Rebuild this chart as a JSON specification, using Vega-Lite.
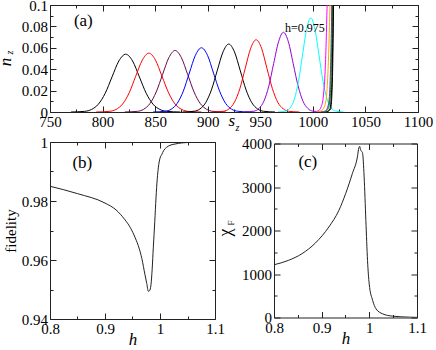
{
  "$schema": "https://vega.github.io/schema/vega-lite/v6.json",
  "padding": {"left": -5, "top": -3, "right": 0, "bottom": 0},
  "background": "white",
  "bounds": "flush",
  "spacing": 30,
  "config": {
    "font": "Liberation Serif",
    "view": {"stroke": "#222", "strokeWidth": 1},
    "style": {"guide-label": {"font": "Liberation Serif", "fontSize": 15}, "guide-title": {"font": "Liberation Serif", "fontWeight": "normal"}},
    "axis": {"domain": false, "grid": false, "labelFont": {"condition": {"test": "isValid(datum.value)", "value": "Liberation Serif"}, "value": "Liberation Serif"}, "labelFontSize": 15, "labelColor": "#000", "tickColor": "#222", "tickWidth": 1, "titleFont": "Liberation Serif", "titleColor": "#000", "titleFontWeight": "normal", "labelPadding": 8.5, "labelFlush": false, "labelOverlap": false, "labelBound": false},
    "text": {"font": "Liberation Serif", "color": "#000"}
  },
  "datasets": {
    "nz": [
      {"curve":"c01","s":770,"n":0},{"curve":"c01","s":783,"n":0.0006},{"curve":"c01","s":789.5,"n":0.0024},{"curve":"c01","s":796,"n":0.0073},{"curve":"c01","s":802.5,"n":0.0175},{"curve":"c01","s":809,"n":0.0328},{"curve":"c01","s":815.5,"n":0.0477},{"curve":"c01","s":822,"n":0.054},{"curve":"c01","s":828.5,"n":0.0477},{"curve":"c01","s":835,"n":0.0328},{"curve":"c01","s":841.5,"n":0.0175},{"curve":"c01","s":848,"n":0.0073},{"curve":"c01","s":854.5,"n":0.0024},{"curve":"c01","s":861,"n":0.0006},{"curve":"c01","s":874,"n":0},
      {"curve":"c02","s":794,"n":0},{"curve":"c02","s":806.5,"n":0.0006},{"curve":"c02","s":812.8,"n":0.0024},{"curve":"c02","s":819,"n":0.0074},{"curve":"c02","s":825.3,"n":0.0179},{"curve":"c02","s":831.5,"n":0.0334},{"curve":"c02","s":837.8,"n":0.0485},{"curve":"c02","s":844,"n":0.055},{"curve":"c02","s":850.3,"n":0.0485},{"curve":"c02","s":856.5,"n":0.0334},{"curve":"c02","s":862.8,"n":0.0179},{"curve":"c02","s":869,"n":0.0074},{"curve":"c02","s":875.3,"n":0.0024},{"curve":"c02","s":881.5,"n":0.0006},{"curve":"c02","s":894,"n":0},
      {"curve":"c03","s":821,"n":0},{"curve":"c03","s":833,"n":0.0006},{"curve":"c03","s":839,"n":0.0025},{"curve":"c03","s":845,"n":0.0078},{"curve":"c03","s":851,"n":0.0187},{"curve":"c03","s":857,"n":0.0349},{"curve":"c03","s":863,"n":0.0507},{"curve":"c03","s":869,"n":0.0575},{"curve":"c03","s":875,"n":0.0507},{"curve":"c03","s":881,"n":0.0349},{"curve":"c03","s":887,"n":0.0187},{"curve":"c03","s":893,"n":0.0078},{"curve":"c03","s":899,"n":0.0025},{"curve":"c03","s":905,"n":0.0006},{"curve":"c03","s":917,"n":0},
      {"curve":"c04","s":848,"n":0},{"curve":"c04","s":859.5,"n":0.0007},{"curve":"c04","s":865.3,"n":0.0026},{"curve":"c04","s":871,"n":0.0081},{"curve":"c04","s":876.8,"n":0.0195},{"curve":"c04","s":882.5,"n":0.0364},{"curve":"c04","s":888.3,"n":0.053},{"curve":"c04","s":894,"n":0.06},{"curve":"c04","s":899.8,"n":0.053},{"curve":"c04","s":905.5,"n":0.0364},{"curve":"c04","s":911.3,"n":0.0195},{"curve":"c04","s":917,"n":0.0081},{"curve":"c04","s":922.8,"n":0.0026},{"curve":"c04","s":928.5,"n":0.0007},{"curve":"c04","s":940,"n":0},
      {"curve":"c05","s":876,"n":0},{"curve":"c05","s":887,"n":0.0007},{"curve":"c05","s":892.5,"n":0.0028},{"curve":"c05","s":898,"n":0.0086},{"curve":"c05","s":903.5,"n":0.0206},{"curve":"c05","s":909,"n":0.0385},{"curve":"c05","s":914.5,"n":0.056},{"curve":"c05","s":920,"n":0.0635},{"curve":"c05","s":925.5,"n":0.056},{"curve":"c05","s":931,"n":0.0385},{"curve":"c05","s":936.5,"n":0.0206},{"curve":"c05","s":942,"n":0.0086},{"curve":"c05","s":947.5,"n":0.0028},{"curve":"c05","s":953,"n":0.0007},{"curve":"c05","s":964,"n":0},
      {"curve":"c06","s":904.8,"n":0},{"curve":"c06","s":915.1,"n":0.0007},{"curve":"c06","s":920.3,"n":0.003},{"curve":"c06","s":925.4,"n":0.0091},{"curve":"c06","s":930.6,"n":0.0219},{"curve":"c06","s":935.7,"n":0.0409},{"curve":"c06","s":940.9,"n":0.0596},{"curve":"c06","s":946,"n":0.0675},{"curve":"c06","s":951.2,"n":0.0596},{"curve":"c06","s":956.3,"n":0.0409},{"curve":"c06","s":961.5,"n":0.0219},{"curve":"c06","s":966.6,"n":0.0091},{"curve":"c06","s":971.8,"n":0.003},{"curve":"c06","s":976.9,"n":0.0007},{"curve":"c06","s":987.2,"n":0},
      {"curve":"c07","s":934.8,"n":0},{"curve":"c07","s":944.1,"n":0.0008},{"curve":"c07","s":948.8,"n":0.0033},{"curve":"c07","s":953.4,"n":0.0101},{"curve":"c07","s":958.1,"n":0.0242},{"curve":"c07","s":962.7,"n":0.0452},{"curve":"c07","s":967.4,"n":0.0657},{"curve":"c07","s":972,"n":0.0745},{"curve":"c07","s":976.7,"n":0.0657},{"curve":"c07","s":981.3,"n":0.0452},{"curve":"c07","s":986,"n":0.0242},{"curve":"c07","s":990.6,"n":0.0101},{"curve":"c07","s":995.3,"n":0.0033},{"curve":"c07","s":999.9,"n":0.0008},{"curve":"c07","s":1009.2,"n":0},
      {"curve":"c08","s":966.8,"n":0},{"curve":"c08","s":974.6,"n":0.001},{"curve":"c08","s":978.5,"n":0.0039},{"curve":"c08","s":982.4,"n":0.0119},{"curve":"c08","s":986.3,"n":0.0286},{"curve":"c08","s":990.2,"n":0.0534},{"curve":"c08","s":994.1,"n":0.0777},{"curve":"c08","s":998,"n":0.088},{"curve":"c08","s":1001.9,"n":0.0777},{"curve":"c08","s":1005.8,"n":0.0534},{"curve":"c08","s":1009.7,"n":0.0286},{"curve":"c08","s":1013.6,"n":0.0119},{"curve":"c08","s":1017.5,"n":0.0039},{"curve":"c08","s":1021.4,"n":0.001},{"curve":"c08","s":1029.2,"n":0},
      {"curve":"c09","s":1000,"n":0},{"curve":"c09","s":1005,"n":0.001},{"curve":"c09","s":1008,"n":0.005},{"curve":"c09","s":1010,"n":0.015},{"curve":"c09","s":1011.5,"n":0.035},{"curve":"c09","s":1012.5,"n":0.06},{"curve":"c09","s":1013.3,"n":0.09},{"curve":"c09","s":1014,"n":0.12},{"curve":"c09","s":1015,"n":0.2},
      {"curve":"c10","s":1003,"n":0},{"curve":"c10","s":1008,"n":0.001},{"curve":"c10","s":1011,"n":0.005},{"curve":"c10","s":1013,"n":0.015},{"curve":"c10","s":1014.5,"n":0.04},{"curve":"c10","s":1015.5,"n":0.07},{"curve":"c10","s":1016.3,"n":0.1},{"curve":"c10","s":1017,"n":0.14},{"curve":"c10","s":1018,"n":0.2},
      {"curve":"c11","s":1008,"n":0},{"curve":"c11","s":1012,"n":0.001},{"curve":"c11","s":1015,"n":0.008},{"curve":"c11","s":1016.5,"n":0.03},{"curve":"c11","s":1017.3,"n":0.06},{"curve":"c11","s":1018,"n":0.1},{"curve":"c11","s":1018.7,"n":0.15},
      {"curve":"c12","s":1010,"n":0},{"curve":"c12","s":1014,"n":0.002},{"curve":"c12","s":1016.5,"n":0.015},{"curve":"c12","s":1017.7,"n":0.05},{"curve":"c12","s":1018.4,"n":0.09},{"curve":"c12","s":1019,"n":0.13},
      {"curve":"c13","s":1012,"n":0},{"curve":"c13","s":1016,"n":0.002},{"curve":"c13","s":1017.8,"n":0.02},{"curve":"c13","s":1018.8,"n":0.06},{"curve":"c13","s":1019.3,"n":0.1},{"curve":"c13","s":1019.7,"n":0.14},
      {"curve":"c14","s":1013,"n":0},{"curve":"c14","s":1017,"n":0.003},{"curve":"c14","s":1018.6,"n":0.03},{"curve":"c14","s":1019.3,"n":0.07},{"curve":"c14","s":1019.8,"n":0.11},{"curve":"c14","s":1020.2,"n":0.15}
    ],
    "nzlabels": [
      {"s": 781.7, "n": 0.0849, "label": "(a)", "size": "big"},
      {"s": 992.4, "n": 0.0787, "label": "h=0.975", "size": "small"}
    ],
    "fid": [
      {"h":0.8,"f":0.985},{"h":0.85,"f":0.9825},{"h":0.9,"f":0.9793},{"h":0.92,"f":0.977},{"h":0.936,"f":0.9737},{"h":0.946,"f":0.971},{"h":0.955,"f":0.9675},{"h":0.962,"f":0.964},{"h":0.967,"f":0.9605},{"h":0.9727,"f":0.955},{"h":0.976,"f":0.952},{"h":0.9787,"f":0.9494},{"h":0.981,"f":0.9496},{"h":0.9836,"f":0.9516},{"h":0.9858,"f":0.957},{"h":0.9878,"f":0.9641},{"h":0.9905,"f":0.973},{"h":0.9927,"f":0.981},{"h":0.995,"f":0.9875},{"h":0.9969,"f":0.9912},{"h":1.0,"f":0.9945},{"h":1.003,"f":0.9957},{"h":1.007,"f":0.9972},{"h":1.012,"f":0.9982},{"h":1.02,"f":0.999},{"h":1.027,"f":0.9993},{"h":1.04,"f":0.9997},{"h":1.06,"f":0.9999},{"h":1.1,"f":1.0}
    ],
    "fidlabels": [{"h": 0.8587, "f": 0.9929, "label": "(b)"}],
    "chi": [
      {"h":0.8,"c":1212},{"h":0.83,"c":1312},{"h":0.8586,"c":1466},{"h":0.8868,"c":1712},{"h":0.915,"c":2080},{"h":0.9362,"c":2464},{"h":0.9503,"c":2848},{"h":0.9644,"c":3309},{"h":0.975,"c":3693},{"h":0.978,"c":3900},{"h":0.9798,"c":3935},{"h":0.9815,"c":3860},{"h":0.9836,"c":3820},{"h":0.9856,"c":3790},{"h":0.9891,"c":3232},{"h":0.9927,"c":2233},{"h":0.9962,"c":1312},{"h":0.9997,"c":774},{"h":1.007,"c":392},{"h":1.014,"c":200},{"h":1.028,"c":84},{"h":1.049,"c":31},{"h":1.084,"c":8},{"h":1.1,"c":3}
    ],
    "chilabels": [{"h": 0.871, "c": 3575, "label": "(c)"}]
  },
  "vconcat": [
    {
      "width": 368,
      "height": 107,
      "layer": [
        {
          "data": {"name": "nz"},
          "mark": {"type": "line", "interpolate": "monotone", "clip": true, "strokeWidth": 1},
          "encoding": {
            "x": {"field": "s", "type": "quantitative", "scale": {"domain": [750, 1100], "nice": false, "zero": false},
              "axis": {"orient": "bottom", "values": [750,775,800,825,850,875,900,925,950,975,1000,1025,1050,1075,1100], "format": "d",
                "labelFont": {"condition": {"test": "isValid(datum.value)", "value": "Liberation Serif"}, "value": "Liberation Serif"}, "labelFontSize": 15, "titleFont": "Liberation Serif",
                "labelExpr": "datum.value % 50 === 0 ? datum.label : ''",
                "tickSize": {"condition": {"test": "datum.value % 50 === 0", "value": -6}, "value": -3},
                "title": "s", "titleFontStyle": "italic", "titleFontSize": 17, "titleX": 181.4, "titleY": 8.7, "titleBaseline": "middle", "titleAlign": "center", "titleAngle": 0}},
            "y": {"field": "n", "type": "quantitative", "scale": {"domain": [0, 0.1], "nice": false, "zero": false},
              "axis": {"orient": "left", "values": [0,0.01,0.02,0.03,0.04,0.05,0.06,0.07,0.08,0.09,0.1], "format": ".2~f",
                "labelFont": {"condition": {"test": "isValid(datum.value)", "value": "Liberation Serif"}, "value": "Liberation Serif"}, "labelFontSize": 15, "titleFont": "Liberation Serif",
                "labelExpr": "round(datum.value*100) % 2 === 0 ? datum.label : ''",
                "tickSize": {"condition": {"test": "round(datum.value*100) % 2 === 0", "value": -6}, "value": -3},
                "title": "n", "titleFontStyle": "italic", "titleFontSize": 17, "titleX": -45, "titleY": 56.5, "titleAngle": 270, "titleBaseline": "middle", "titleAlign": "center"}},
            "color": {"field": "curve", "type": "nominal", "legend": null,
              "scale": {"domain": ["c01","c02","c03","c04","c05","c06","c07","c08","c09","c10","c11","c12","c13","c14"],
                "range": ["#000000","#ff0000","#670748","#0000ff","#000000","#ff0000","#9400d3","#00ffff","#ff00ff","#ffa500","#7221bc","#008b00","#000000","#000000"]}}
          }
        },
        {
          "data": {"name": "nzlabels"},
          "mark": {"type": "point", "opacity": 0, "clip": true},
          "encoding": {
            "x": {"field": "s", "type": "quantitative", "scale": {"domain": [750, 1100], "nice": false, "zero": false},
              "axis": {"orient": "top", "values": [750,775,800,825,850,875,900,925,950,975,1000,1025,1050,1075,1100], "labels": false, "title": null,
                "tickSize": {"condition": {"test": "datum.value % 50 === 0", "value": -6}, "value": -3}}},
            "y": {"field": "n", "type": "quantitative", "scale": {"domain": [0, 0.1], "nice": false, "zero": false},
              "axis": {"orient": "right", "values": [0,0.01,0.02,0.03,0.04,0.05,0.06,0.07,0.08,0.09,0.1], "labels": false, "title": null,
                "tickSize": {"condition": {"test": "round(datum.value*100) % 2 === 0", "value": -6}, "value": -3}}}
          }
        },
        {
          "data": {"name": "nzlabels"},
          "mark": {"type": "point", "opacity": 0, "clip": true},
          "encoding": {
            "x": {"field": "s", "type": "quantitative", "scale": {"domain": [750, 1100], "nice": false, "zero": false},
              "axis": {"orient": "bottom", "ticks": false, "labels": false, "title": "z", "titleFont": "Liberation Serif", "titleFontStyle": "italic", "titleFontSize": 10, "titleX": 187, "titleY": 15.5, "titleBaseline": "middle", "titleAlign": "center", "titleAngle": 0}},
            "y": {"field": "n", "type": "quantitative", "scale": {"domain": [0, 0.1], "nice": false, "zero": false},
              "axis": {"orient": "left", "ticks": false, "labels": false, "title": "z", "titleFont": "Liberation Serif", "titleFontStyle": "italic", "titleFontSize": 10, "titleX": -40.5, "titleY": 47, "titleAngle": 270, "titleBaseline": "middle", "titleAlign": "center"}}
          }
        },
        {
          "data": {"name": "nzlabels"},
          "mark": {"type": "text"},
          "encoding": {
            "x": {"field": "s", "type": "quantitative", "axis": null, "scale": {"domain": [750, 1100], "nice": false, "zero": false}},
            "y": {"field": "n", "type": "quantitative", "axis": null, "scale": {"domain": [0, 0.1], "nice": false, "zero": false}},
            "size": {"field": "size", "type": "nominal", "legend": null, "scale": {"domain": ["big", "small"], "range": [17, 12]}},
            "text": {"field": "label"}
          }
        }
      ],
      "resolve": {"axis": {"x": "independent", "y": "independent"}}
    },
    {
      "bounds": "flush",
      "spacing": 59,
      "center": true,
      "hconcat": [
        {
          "width": 165,
          "height": 177,
          "layer": [
            {
              "data": {"name": "fid"},
              "mark": {"type": "line", "interpolate": "monotone", "clip": true, "strokeWidth": 1, "color": "#222"},
              "encoding": {
                "x": {"field": "h", "type": "quantitative", "scale": {"domain": [0.8, 1.1], "nice": false, "zero": false},
                  "axis": {"orient": "bottom", "values": [0.8,0.85,0.9,0.95,1,1.05,1.1], "format": ".1~f",
                    "labelFont": {"condition": {"test": "isValid(datum.value)", "value": "Liberation Serif"}, "value": "Liberation Serif"}, "labelFontSize": 15, "titleFont": "Liberation Serif",
                    "labelExpr": "round(datum.value*100) % 10 === 0 ? datum.label : ''",
                    "tickSize": {"condition": {"test": "round(datum.value*100) % 10 === 0", "value": -6}, "value": -3},
                    "title": "h", "titleFontStyle": "italic", "titleFontSize": 17, "titleY": 20.5, "titleBaseline": "middle", "titleAngle": 0}},
                "y": {"field": "f", "type": "quantitative", "scale": {"domain": [0.94, 1.0], "nice": false, "zero": false},
                  "axis": {"orient": "left", "values": [0.94,0.95,0.96,0.97,0.98,0.99,1.0], "format": ".2~f",
                    "labelFont": {"condition": {"test": "isValid(datum.value)", "value": "Liberation Serif"}, "value": "Liberation Serif"}, "labelFontSize": 15, "titleFont": "Liberation Serif",
                    "labelExpr": "round(datum.value*100) % 2 === 0 ? datum.label : ''",
                    "tickSize": {"condition": {"test": "round(datum.value*100) % 2 === 0", "value": -6}, "value": -3},
                    "title": "fidelity", "titleFontSize": 15, "titleX": -39.7, "titleAngle": 270, "titleBaseline": "middle", "titleAlign": "center"}}
              }
            },
            {
              "data": {"name": "fidlabels"},
              "mark": {"type": "point", "opacity": 0, "clip": true},
              "encoding": {
                "x": {"field": "h", "type": "quantitative", "scale": {"domain": [0.8, 1.1], "nice": false, "zero": false},
                  "axis": {"orient": "top", "values": [0.8,0.85,0.9,0.95,1,1.05,1.1], "labels": false, "title": null,
                    "tickSize": {"condition": {"test": "round(datum.value*100) % 10 === 0", "value": -6}, "value": -3}}},
                "y": {"field": "f", "type": "quantitative", "scale": {"domain": [0.94, 1.0], "nice": false, "zero": false},
                  "axis": {"orient": "right", "values": [0.94,0.95,0.96,0.97,0.98,0.99,1.0], "labels": false, "title": null,
                    "tickSize": {"condition": {"test": "round(datum.value*100) % 2 === 0", "value": -6}, "value": -3}}}
              }
            },
            {
              "data": {"name": "fidlabels"},
              "mark": {"type": "text", "fontSize": 17},
              "encoding": {
                "x": {"field": "h", "type": "quantitative", "axis": null, "scale": {"domain": [0.8, 1.1], "nice": false, "zero": false}},
                "y": {"field": "f", "type": "quantitative", "axis": null, "scale": {"domain": [0.94, 1.0], "nice": false, "zero": false}},
                "text": {"field": "label"}
              }
            }
          ],
          "resolve": {"axis": {"x": "independent", "y": "independent"}}
        },
        {
          "width": 143,
          "height": 174,
          "layer": [
            {
              "data": {"name": "chi"},
              "mark": {"type": "line", "interpolate": "monotone", "clip": true, "strokeWidth": 1, "color": "#222"},
              "encoding": {
                "x": {"field": "h", "type": "quantitative", "scale": {"domain": [0.8, 1.1], "nice": false, "zero": false},
                  "axis": {"orient": "bottom", "values": [0.8,0.85,0.9,0.95,1,1.05,1.1], "format": ".1~f",
                    "labelFont": {"condition": {"test": "isValid(datum.value)", "value": "Liberation Serif"}, "value": "Liberation Serif"}, "labelFontSize": 15, "titleFont": "Liberation Serif",
                    "labelExpr": "round(datum.value*100) % 10 === 0 ? datum.label : ''",
                    "tickSize": {"condition": {"test": "round(datum.value*100) % 10 === 0", "value": -6}, "value": -3},
                    "title": "h", "titleFontStyle": "italic", "titleFontSize": 17, "titleY": 20.5, "titleBaseline": "middle", "titleAngle": 0}},
                "y": {"field": "c", "type": "quantitative", "scale": {"domain": [0, 4000], "nice": false, "zero": false},
                  "axis": {"orient": "left", "values": [0,500,1000,1500,2000,2500,3000,3500,4000], "format": "d",
                    "labelFont": {"condition": {"test": "isValid(datum.value)", "value": "Liberation Serif"}, "value": "Liberation Serif"}, "labelFontSize": 15, "titleFont": "Liberation Serif",
                    "labelExpr": "datum.value % 1000 === 0 ? datum.label : ''",
                    "tickSize": {"condition": {"test": "datum.value % 1000 === 0", "value": -6}, "value": -3},
                    "title": "χ", "titleFontSize": 18, "titleX": -48.7, "titleY": 88.5, "titleAngle": 270, "titleBaseline": "middle", "titleAlign": "center"}}
              }
            },
            {
              "data": {"name": "chilabels"},
              "mark": {"type": "point", "opacity": 0, "clip": true},
              "encoding": {
                "x": {"field": "h", "type": "quantitative", "scale": {"domain": [0.8, 1.1], "nice": false, "zero": false},
                  "axis": {"orient": "top", "values": [0.8,0.85,0.9,0.95,1,1.05,1.1], "labels": false, "title": null,
                    "tickSize": {"condition": {"test": "round(datum.value*100) % 10 === 0", "value": -6}, "value": -3}}},
                "y": {"field": "c", "type": "quantitative", "scale": {"domain": [0, 4000], "nice": false, "zero": false},
                  "axis": {"orient": "right", "values": [0,500,1000,1500,2000,2500,3000,3500,4000], "labels": false, "title": null,
                    "tickSize": {"condition": {"test": "datum.value % 1000 === 0", "value": -6}, "value": -3}}}
              }
            },
            {
              "data": {"name": "chilabels"},
              "mark": {"type": "point", "opacity": 0, "clip": true},
              "encoding": {
                "x": {"field": "h", "type": "quantitative", "scale": {"domain": [0.8, 1.1], "nice": false, "zero": false}, "axis": null},
                "y": {"field": "c", "type": "quantitative", "scale": {"domain": [0, 4000], "nice": false, "zero": false},
                  "axis": {"orient": "left", "ticks": false, "labels": false, "title": "F", "titleFont": "Liberation Serif", "titleFontSize": 9, "titleX": -44, "titleY": 79, "titleAngle": 270, "titleBaseline": "middle", "titleAlign": "center"}}
              }
            },
            {
              "data": {"name": "chilabels"},
              "mark": {"type": "text", "fontSize": 17},
              "encoding": {
                "x": {"field": "h", "type": "quantitative", "axis": null, "scale": {"domain": [0.8, 1.1], "nice": false, "zero": false}},
                "y": {"field": "c", "type": "quantitative", "axis": null, "scale": {"domain": [0, 4000], "nice": false, "zero": false}},
                "text": {"field": "label"}
              }
            }
          ],
          "resolve": {"axis": {"x": "independent", "y": "independent"}}
        }
      ]
    }
  ]
}
